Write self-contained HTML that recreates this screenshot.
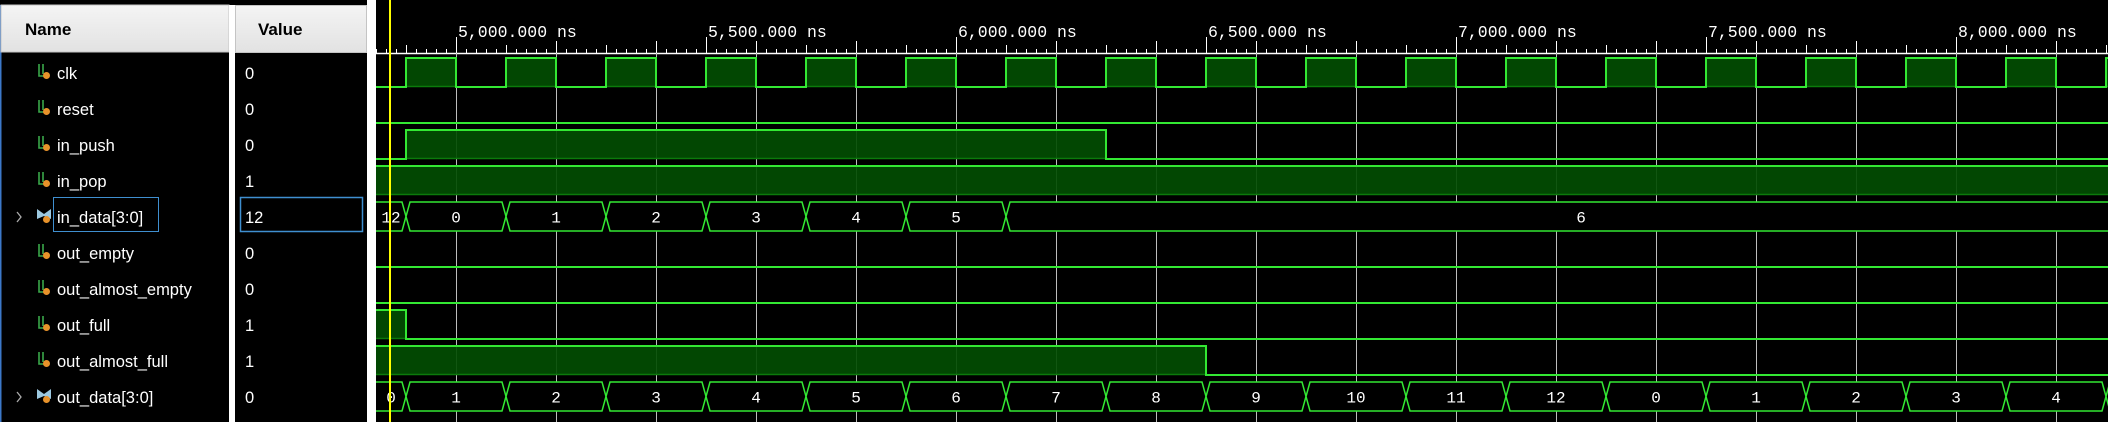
<!DOCTYPE html>
<html><head><meta charset="utf-8"><style>
html,body{margin:0;padding:0;background:#000;width:2108px;height:422px;overflow:hidden;font-family:"Liberation Sans",sans-serif}
svg{display:block}
</style></head><body>
<svg id="root" width="2108" height="422" xmlns="http://www.w3.org/2000/svg">
  <rect x="0" y="0" width="2108" height="422" fill="#000"/>
  <!-- name panel -->
  <g>
    <rect x="0" y="5" width="229" height="417" fill="#000"/>
    <rect x="0" y="5" width="1.5" height="417" fill="#3c78c8"/>
    <rect x="1" y="5" width="228" height="47" fill="url(#hdr)" stroke="#c4c4c4"/>
    <text x="25" y="35" font-size="17" font-weight="bold" fill="#000">Name</text>
  </g>
  <rect x="229" y="5" width="6" height="417" fill="#fff"/>
  <g>
    <rect x="235" y="5" width="132" height="417" fill="#000"/>
    <rect x="235.5" y="5.5" width="131" height="47" fill="url(#hdr)" stroke="#c4c4c4"/>
    <text x="258" y="35" font-size="17" font-weight="bold" fill="#000">Value</text>
  </g>
  <rect x="367" y="0" width="9" height="422" fill="#fff"/>
  <defs>
    <linearGradient id="hdr" x1="0" y1="0" x2="0" y2="1"><stop offset="0" stop-color="#f4f4f4"/><stop offset="1" stop-color="#e2e2e2"/></linearGradient>
    <clipPath id="wclip"><rect x="376" y="0" width="1732" height="422"/></clipPath>
  </defs>
  <g id="rows"></g>
  <g id="wave" clip-path="url(#wclip)"></g>
</svg>
<script>
// ---- data ----
const signalNames = ["clk","reset","in_push","in_pop","in_data[3:0]","out_empty","out_almost_empty","out_full","out_almost_full","out_data[3:0]"];
const signalValuesNow = ["0","0","0","1","12","0","0","1","1","0"];
const signalIsBus = [false,false,false,false,true,false,false,false,false,true];
const timeLabels = [5000,5500,6000,6500,7000,7500,8000];
const clkRise = [4900,5100,5300,5500,5700,5900,6100,6300,6500,6700,6900,7100,7300,7500,7700,7900,8100,8300];
const clkFall = [5000,5200,5400,5600,5800,6000,6200,6400,6600,6800,7000,7200,7400,7600,7800,8000,8200];
const resetTimes = [4800]; const resetVals = [0];
const inPushTimes = [4800,4900,6300]; const inPushVals = [0,1,0];
const inPopTimes = [4800]; const inPopVals = [1];
const inDataTimes = [4800,4900,5100,5300,5500,5700,5900,6100];
const inDataVals = [12,0,1,2,3,4,5,6];
const outEmptyTimes = [4800]; const outEmptyVals = [0];
const outAEmptyTimes = [4800]; const outAEmptyVals = [0];
const outFullTimes = [4800,4900]; const outFullVals = [1,0];
const outAFullTimes = [4800,6500]; const outAFullVals = [1,0];
const outDataTimes = [4800,4900,5100,5300,5500,5700,5900,6100,6300,6500,6700,6900,7100,7300,7500,7700,7900,8100,8300];
const outDataVals = [0,1,2,3,4,5,6,7,8,9,10,11,12,0,1,2,3,4,5];
const cursorTime = 4868;

// ---- axis ----
const T0 = 5000, X0 = 456, PX = 0.5, TEND = 8400;
function xs(t){ return X0 + (t - T0) * PX; }
function hiY(i){ return 58 + 36 * i; }
function loY(i){ return 87 + 36 * i; }
const NS = "http://www.w3.org/2000/svg";
const G = "#33e833", FILL = "#024d02";
function mk(tag, attrs, parent){ const e = document.createElementNS(NS, tag); for (const k in attrs) e.setAttribute(k, attrs[k]); parent.appendChild(e); return e; }
const wave = document.getElementById('wave');
const rows = document.getElementById('rows');

// timeline
for (let t = 4800; t <= TEND; t += 20) {
  const x = xs(t) + 0.5;
  let top = 49;
  if (t % 100 === 0) top = 45;
  if (t % 200 === 0) top = 41;
  if (t % 500 === 0) top = 37;
  const tk = mk('line', {x1:x, x2:x, y1:top, y2:53, stroke:'#fff', 'stroke-width':1}, wave);
  
  
}
const base = mk('line', {x1:376, x2:2108, y1:53.5, y2:53.5, stroke:'#fff', 'stroke-width':1.5}, wave);


timeLabels.forEach(t => {
  const tx = mk('text', {x:xs(t)+2, y:37, fill:'#fff', 'font-size':16.5, 'font-family':'"Liberation Mono", monospace'}, wave);
  tx.textContent = t.toLocaleString('en-US') + '.000 ns';
  
  
});
// grid
for (let t = 4800; t <= TEND; t += 200) {
  const gl = mk('line', {x1:xs(t)+0.5, x2:xs(t)+0.5, y1:53, y2:422, stroke:'#bdbdbd', 'stroke-width':1}, wave);
  
  
}

function digital(i, times, vals, name){
  const g = mk('g', {}, wave);
  
  
  const h = hiY(i), l = loY(i);
  let d = '';
  for (let k = 0; k < times.length; k++) {
    const x0 = xs(times[k]), x1 = k + 1 < times.length ? xs(times[k+1]) : xs(TEND);
    const y = vals[k] ? h : l;
    if (vals[k]) {
      const r = mk('rect', {x:x0, y:h, width:x1-x0, height:l-h, fill:FILL, 'fill-opacity':0.92}, g);
      
      
      mk('line', {x1:x0, x2:x1, y1:l-0.5, y2:l-0.5, stroke:'#0b7a0b', 'stroke-width':1.5}, g);
    }
    d += (k === 0 ? 'M' : 'L') + x0 + ',' + y + ' L' + x1 + ',' + y + ' ';
  }
  const p = mk('path', {d:d, fill:'none', stroke:G, 'stroke-width':2}, g);
  
  
}
function bus(i, times, vals, name){
  const g = mk('g', {}, wave);
  
  
  const h = hiY(i), l = loY(i), m = (h + l) / 2, s = 4;
  for (let k = 0; k < times.length; k++) {
    const x0 = xs(times[k]), x1 = k + 1 < times.length ? xs(times[k+1]) : xs(TEND);
    const pts = [[x0+s,h],[x1-s,h],[x1,m],[x1-s,l],[x0+s,l],[x0,m]].map(p=>p.join(',')).join(' ');
    const pg = mk('polygon', {points:pts, fill:'#000', stroke:G, 'stroke-width':1.5}, g);
    
    
    const vx0 = Math.max(x0, 376), cx = (vx0 + x1) / 2;
    const tx = mk('text', {x:cx, y:m+6, fill:'#fff', 'font-size':16, 'text-anchor':'middle', 'font-family':'"Liberation Mono", monospace'}, g);
    tx.textContent = String(vals[k]);
    
    
  }
}
// clock from rise/fall arrays
(function(){
  const times = [4800], vals = [0];
  const ev = clkRise.map(t=>[t,1]).concat(clkFall.map(t=>[t,0])).sort((a,b)=>a[0]-b[0]);
  ev.forEach(e=>{ times.push(e[0]); vals.push(e[1]); });
  digital(0, times, vals, 'clk');
})();
digital(1, resetTimes, resetVals, 'reset');
digital(2, inPushTimes, inPushVals, 'in-push');
digital(3, inPopTimes, inPopVals, 'in-pop');
bus(4, inDataTimes, inDataVals, 'in-data');
digital(5, outEmptyTimes, outEmptyVals, 'out-empty');
digital(6, outAEmptyTimes, outAEmptyVals, 'out-almost-empty');
digital(7, outFullTimes, outFullVals, 'out-full');
digital(8, outAFullTimes, outAFullVals, 'out-almost-full');
bus(9, outDataTimes, outDataVals, 'out-data');
const cur = mk('rect', {x:xs(cursorTime)-1, y:0, width:2, height:422, fill:'#ffff00'}, wave);



// name / value rows
signalNames.forEach((n, i) => {
  const cy = 73 + 36 * i;
  const g = mk('g', {}, rows);
  
  
  if (signalIsBus[i]) {
    const ex = mk('path', {d:`M17,${cy-5} L21,${cy} L17,${cy+5}`, fill:'none', stroke:'#aaa', 'stroke-width':1.3}, g);
    
    
    mk('path', {d:`M37,${cy-8} L44,${cy-3} L51,${cy-8} L51,${cy+2} L44,${cy-1} L37,${cy+2} Z`, fill:'#9cc8e0'}, g);
  } else {
    mk('path', {d:`M39,${cy-9} L39,${cy+3} L45,${cy+3} M43,${cy-9} L43,${cy+1}`, fill:'none', stroke:'#3aa84a', 'stroke-width':1.6}, g);
  }
  mk('circle', {cx:46.5, cy:cy+2.5, r:3.5, fill:'#e8922a'}, g);
  if (signalIsBus[i] && i === 4) {
    const b1 = mk('rect', {x:53.5, y:cy-19.5, width:105, height:34, fill:'none', stroke:'#3f8fd0', 'stroke-width':1}, g);
    
    
    const b2 = mk('rect', {x:240.5, y:cy-19.5, width:122, height:34, fill:'none', stroke:'#3f8fd0', 'stroke-width':1.5}, g);
    
    
  }
  const t = mk('text', {x:57, y:cy+6, fill:'#fff', 'font-size':16.5}, g);
  t.textContent = n;
  
  
  const v = mk('text', {x:245, y:cy+6, fill:'#fff', 'font-size':16.5}, g);
  v.textContent = signalValuesNow[i];
  
  
});
</script>
</body></html>
